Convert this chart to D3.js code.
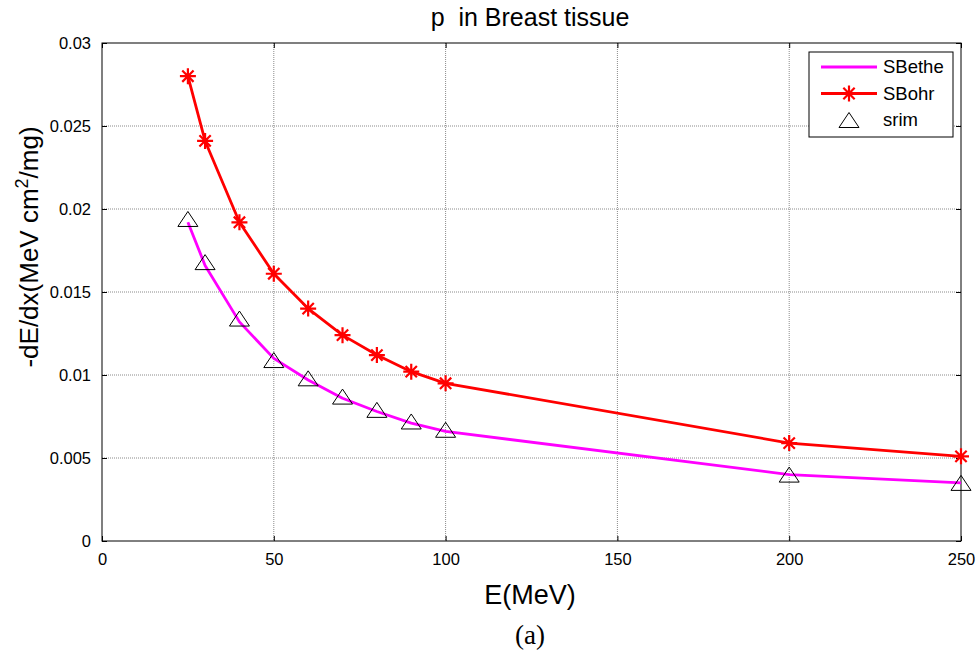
<!DOCTYPE html>
<html>
<head>
<meta charset="utf-8">
<script src="https://cdn.jsdelivr.net/npm/d3@7.9.0/dist/d3.min.js"></script>
<style>
  html, body { margin: 0; padding: 0; background: #fff; }
  svg { display: block; font-family: "Liberation Sans", Arial, sans-serif; }
</style>
</head>
<body>
<svg id="chart" width="980" height="653"></svg>
<script>
// Energies (MeV) and stopping powers (MeV cm^2/mg)
const energy = [25, 30, 40, 50, 60, 70, 80, 90, 100, 200, 250];
const sBethe = [0.0192, 0.0166, 0.0132, 0.0110, 0.0097, 0.0086, 0.0078, 0.0071, 0.0066, 0.0040, 0.0035];
const sBohr  = [0.0280, 0.0241, 0.0192, 0.0161, 0.0140, 0.0124, 0.0112, 0.0102, 0.0095, 0.0059, 0.0051];
const srim   = [0.0194, 0.0168, 0.0134, 0.0109, 0.0098, 0.0087, 0.0079, 0.0072, 0.0067, 0.0040, 0.0035];

const xTicks = [0, 50, 100, 150, 200, 250];
const yTicks = [0, 0.005, 0.01, 0.015, 0.02, 0.025, 0.03];
const yTickLabels = ['0', '0.005', '0.01', '0.015', '0.02', '0.025', '0.03'];

const svg = d3.select('#chart');
const plot = { left: 102, right: 961, top: 43, bottom: 541 };

const x = d3.scaleLinear().domain([0, 250]).range([plot.left, plot.right]);
const y = d3.scaleLinear().domain([0, 0.03]).range([plot.bottom, plot.top]);

/* ---------- grid ---------- */
const grid = svg.append('g').attr('class', 'grid');
grid.selectAll('line.gx')
  .data(xTicks.slice(1, -1))
  .join('line')
  .attr('x1', d => x(d)).attr('x2', d => x(d))
  .attr('y1', plot.top).attr('y2', plot.bottom);
grid.selectAll('line.gy')
  .data(yTicks.slice(1, -1))
  .join('line')
  .attr('y1', d => y(d)).attr('y2', d => y(d))
  .attr('x1', plot.left).attr('x2', plot.right);
grid.selectAll('line')
  .attr('stroke', '#8a8a8a')
  .attr('stroke-width', 1)
  .attr('stroke-dasharray', '1,1');

/* ---------- axes (MATLAB style: inward ticks, box) ---------- */
const tickLen = 5;
const axisBottom = d3.axisBottom(x).tickValues(xTicks).tickSize(-tickLen).tickPadding(12);
const axisTop = d3.axisTop(x).tickValues(xTicks).tickSize(-tickLen).tickFormat('');
const axisLeft = d3.axisLeft(y).tickValues(yTicks).tickSize(-tickLen).tickPadding(11)
  .tickFormat((d, i) => yTickLabels[i]);
const axisRight = d3.axisRight(y).tickValues(yTicks).tickSize(-tickLen).tickFormat('');

function styleAxis(g) {
  g.select('.domain').remove();
  g.selectAll('.tick line').attr('stroke', '#000');
  g.selectAll('.tick text')
    .attr('fill', '#000')
    .style('font-family', '"Liberation Sans", Arial, sans-serif')
    .style('font-size', '16.5px');
}

svg.append('g').attr('transform', `translate(0,${plot.bottom})`).call(axisBottom).call(styleAxis);
svg.append('g').attr('transform', `translate(0,${plot.top})`).call(axisTop).call(styleAxis);
svg.append('g').attr('transform', `translate(${plot.left},0)`).call(axisLeft).call(styleAxis);
svg.append('g').attr('transform', `translate(${plot.right},0)`).call(axisRight).call(styleAxis);

svg.append('rect')
  .attr('x', plot.left).attr('y', plot.top)
  .attr('width', plot.right - plot.left).attr('height', plot.bottom - plot.top)
  .attr('fill', 'none').attr('stroke', '#000').attr('stroke-width', 1);

/* ---------- series ---------- */
const line = d3.line().x(d => x(d[0])).y(d => y(d[1]));

svg.append('path')
  .datum(d3.zip(energy, sBethe))
  .attr('d', line)
  .attr('fill', 'none').attr('stroke', '#ff00ff').attr('stroke-width', 2.8)
  .attr('stroke-linejoin', 'round');

svg.append('path')
  .datum(d3.zip(energy, sBohr))
  .attr('d', line)
  .attr('fill', 'none').attr('stroke', '#ff0000').attr('stroke-width', 2.8)
  .attr('stroke-linejoin', 'round');

// asterisk marker path (+ and x combined)
function starPath(r) {
  const k = r * Math.SQRT1_2;
  return `M${-r},0L${r},0M0,${-r}L0,${r}M${-k},${-k}L${k},${k}M${-k},${k}L${k},${-k}`;
}
// open triangle (bounding box centred on the point)
function triPath(w, h) {
  return `M0,${-h / 2}L${w / 2},${h / 2}L${-w / 2},${h / 2}Z`;
}

svg.append('g').selectAll('path')
  .data(d3.zip(energy, sBohr))
  .join('path')
  .attr('transform', d => `translate(${x(d[0])},${y(d[1])})`)
  .attr('d', starPath(8))
  .attr('fill', 'none').attr('stroke', '#ff0000').attr('stroke-width', 2.2);

svg.append('g').selectAll('path')
  .data(d3.zip(energy, srim))
  .join('path')
  .attr('transform', d => `translate(${x(d[0])},${y(d[1])})`)
  .attr('d', triPath(20, 15))
  .attr('fill', 'none').attr('stroke', '#000').attr('stroke-width', 1);

/* ---------- legend ---------- */
const legend = svg.append('g').attr('transform', 'translate(809,52)');
legend.append('rect')
  .attr('width', 144).attr('height', 85)
  .attr('fill', '#fff').attr('stroke', '#000').attr('stroke-width', 1);

const legendItems = [
  { label: 'SBethe', kind: 'bethe' },
  { label: 'SBohr', kind: 'bohr' },
  { label: 'srim', kind: 'srim' }
];
const rows = legend.selectAll('g.item')
  .data(legendItems)
  .join('g')
  .attr('class', 'item')
  .attr('transform', (d, i) => `translate(0,${15 + i * 26.5})`);

rows.filter(d => d.kind !== 'srim').append('line')
  .attr('x1', 12).attr('x2', 68).attr('y1', 0).attr('y2', 0)
  .attr('stroke', d => d.kind === 'bethe' ? '#ff00ff' : '#ff0000')
  .attr('stroke-width', 2.8);
rows.filter(d => d.kind === 'bohr').append('path')
  .attr('transform', 'translate(40,0)')
  .attr('d', starPath(8))
  .attr('fill', 'none').attr('stroke', '#ff0000').attr('stroke-width', 2.2);
rows.filter(d => d.kind === 'srim').append('path')
  .attr('transform', 'translate(40,0)')
  .attr('d', triPath(20, 15))
  .attr('fill', 'none').attr('stroke', '#000').attr('stroke-width', 1);
rows.append('text')
  .attr('x', 74).attr('y', 0).attr('dy', '0.35em')
  .style('font-size', '18.5px')
  .text(d => d.label);

/* ---------- titles ---------- */
svg.append('text')
  .attr('x', 530).attr('y', 26)
  .attr('text-anchor', 'middle')
  .style('font-size', '25px')
  .style('white-space', 'pre')
  .attr('xml:space', 'preserve')
  .text('p  in Breast tissue');

svg.append('text')
  .attr('x', 530).attr('y', 604)
  .attr('text-anchor', 'middle')
  .style('font-size', '27px')
  .text('E(MeV)');

const yl = svg.append('text')
  .attr('transform', 'translate(38,247) rotate(-90)')
  .attr('text-anchor', 'middle')
  .style('font-size', '26px');
yl.append('tspan').text('-dE/dx(MeV cm');
yl.append('tspan').attr('dy', -10).style('font-size', '18px').text('2');
yl.append('tspan').attr('dy', 10).text('/mg)');

svg.append('text')
  .attr('x', 530).attr('y', 644)
  .attr('text-anchor', 'middle')
  .style('font-family', '"Liberation Serif", "Times New Roman", serif')
  .style('font-size', '27px')
  .text('(a)');
</script>
</body>
</html>
